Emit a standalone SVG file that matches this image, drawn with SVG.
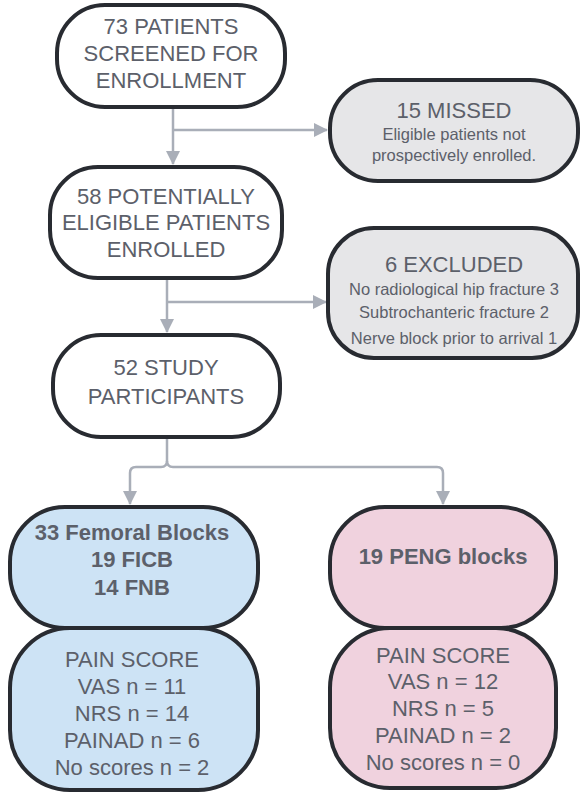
<svg xmlns="http://www.w3.org/2000/svg" width="585" height="796" viewBox="0 0 585 796">
<style>
.box{stroke:#282b31;stroke-width:4}
.w{fill:#ffffff}
.g{fill:#e6e6e8}
.b{fill:#cde3f5}
.p{fill:#f0d2de}
text{font-family:"Liberation Sans",Arial,sans-serif;fill:#5c606a;text-anchor:middle}
.t22{font-size:22px}
.t16{font-size:16.5px}
.bd{font-size:22px;font-weight:bold}
.c{fill:none;stroke:#a9aeb8;stroke-width:2.5}
</style>
<defs>
<marker id="ah" viewBox="0 0 14 14" refX="13" refY="7" markerWidth="14" markerHeight="14" markerUnits="userSpaceOnUse" orient="auto">
<path d="M0,0 L14,7 L0,14 Z" fill="#a9aeb8"/>
</marker>
</defs>
<g id="connectors">
<path class="c" d="M173,107 V164" marker-end="url(#ah)"/>
<path class="c" d="M173,130 H327" marker-end="url(#ah)"/>
<path class="c" d="M167,278 V332" marker-end="url(#ah)"/>
<path class="c" d="M167,302 H326" marker-end="url(#ah)"/>
<path class="c" d="M167,437 V461 Q167,467 161,467 H136 Q130,467 130,473 V504" marker-end="url(#ah)"/>
<path class="c" d="M167,461 Q167,467 173,467 H437 Q443,467 443,473 V504" marker-end="url(#ah)"/>
</g>
<g id="n1">
<rect class="box w" x="57" y="5" width="228" height="102" rx="48"/>
<text class="t22" x="171" y="34">73 PATIENTS</text>
<text class="t22" x="171" y="61">SCREENED FOR</text>
<text class="t22" x="171" y="88">ENROLLMENT</text>
</g>
<g id="missed">
<rect class="box g" x="330" y="80" width="248" height="101" rx="48"/>
<text class="t22" x="454" y="118">15 MISSED</text>
<text class="t16" x="454" y="140">Eligible patients not</text>
<text class="t16" x="454" y="161">prospectively enrolled.</text>
</g>
<g id="n2">
<rect class="box w" x="50" y="167" width="232" height="111" rx="48"/>
<text class="t22" x="166" y="204">58 POTENTIALLY</text>
<text class="t22" x="166" y="230">ELIGIBLE PATIENTS</text>
<text class="t22" x="166" y="257">ENROLLED</text>
</g>
<g id="excluded">
<rect class="box g" x="328" y="228" width="250" height="130" rx="46"/>
<text class="t22" x="454" y="272">6 EXCLUDED</text>
<text class="t16" x="454" y="295">No radiological hip fracture 3</text>
<text class="t16" x="454" y="318">Subtrochanteric fracture 2</text>
<text class="t16" x="454" y="344">Nerve block prior to arrival 1</text>
</g>
<g id="n3">
<rect class="box w" x="53" y="335" width="227" height="102" rx="48"/>
<text class="t22" x="166" y="375">52 STUDY</text>
<text class="t22" x="166" y="404">PARTICIPANTS</text>
</g>
<g id="femoral">
<rect class="box b" x="10" y="507" width="248" height="121" rx="55"/>
<text class="bd" x="132" y="540">33 Femoral Blocks</text>
<text class="bd" x="132" y="567">19 FICB</text>
<text class="bd" x="132" y="595">14 FNB</text>
</g>
<g id="femoral-pain">
<rect class="box b" x="10" y="628" width="248" height="162" rx="60"/>
<text class="t22" x="132" y="667">PAIN SCORE</text>
<text class="t22" x="132" y="694">VAS n = 11</text>
<text class="t22" x="132" y="721">NRS n = 14</text>
<text class="t22" x="132" y="748">PAINAD n = 6</text>
<text class="t22" x="132" y="775">No scores n = 2</text>
</g>
<g id="peng">
<rect class="box p" x="330" y="507" width="226" height="121" rx="55"/>
<text class="bd" x="443" y="564">19 PENG blocks</text>
</g>
<g id="peng-pain">
<rect class="box p" x="330" y="628" width="226" height="160" rx="60"/>
<text class="t22" x="443" y="663">PAIN SCORE</text>
<text class="t22" x="443" y="689">VAS n = 12</text>
<text class="t22" x="443" y="716">NRS n = 5</text>
<text class="t22" x="443" y="743">PAINAD n = 2</text>
<text class="t22" x="443" y="770">No scores n = 0</text>
</g>
</svg>
